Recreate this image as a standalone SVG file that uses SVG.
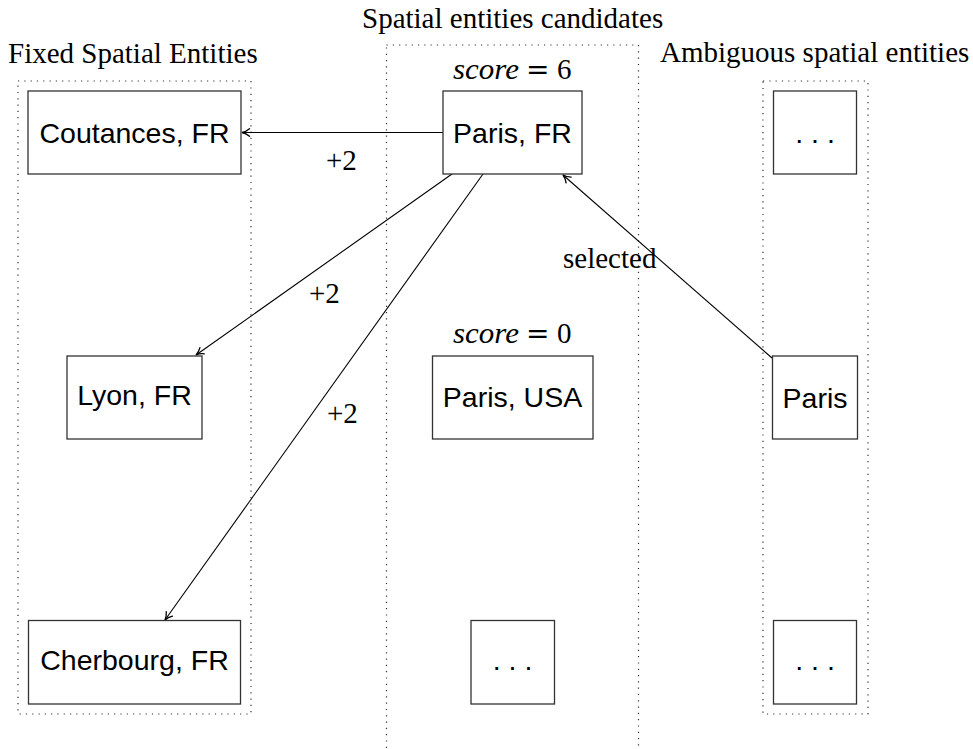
<svg xmlns="http://www.w3.org/2000/svg" width="973" height="749" viewBox="0 0 973 749">
<style>
.bg{fill:#fff}
.group{fill:none;stroke:#333;stroke-width:1.2;stroke-dasharray:1.2 5.1}
.box{fill:#fff;stroke:#333;stroke-width:1.3}
.lbl{font-family:"Liberation Serif","Times New Roman",serif;font-size:29px;fill:#000}
.it{font-style:italic}
.eq{font-family:"DejaVu Serif","Liberation Serif",serif;font-size:28px;fill:#000}
.node{font-family:"Liberation Sans",Arial,sans-serif;font-size:28.5px;fill:#000;text-anchor:middle}
.edge{fill:none;stroke:#000;stroke-width:1.1;marker-end:url(#arr)}
</style>
<defs>
<marker id="arr" viewBox="0 0 10 10" refX="9" refY="5" markerWidth="10" markerHeight="10" markerUnits="userSpaceOnUse" orient="auto">
<path d="M1.5,1.2 Q5,4.2 9,5 Q5,5.8 1.5,8.8" fill="none" stroke="#000" stroke-width="1.3" stroke-linecap="round"/>
</marker>
</defs>
<rect class="bg" x="0" y="0" width="973" height="749"/>

<g id="groups">
<rect class="group" x="18" y="81" width="233" height="633"/>
<rect class="group" x="386.5" y="45" width="252" height="720"/>
<rect class="group" x="763" y="81" width="105" height="633"/>
<text class="lbl" x="8" y="63">Fixed Spatial Entities</text>
<text class="lbl" x="362" y="28">Spatial entities candidates</text>
<text class="lbl" x="660" y="62">Ambiguous spatial entities</text>
</g>

<g id="connectors">
<line class="edge" x1="443" y1="132.5" x2="242" y2="132.5"/>
<line class="edge" x1="452" y1="174" x2="196" y2="355"/>
<line class="edge" x1="483" y1="174" x2="165" y2="620"/>
<line class="edge" x1="772" y1="358" x2="563" y2="175"/>
<text class="lbl" x="326" y="170">+2</text>
<text class="lbl" x="309" y="303">+2</text>
<text class="lbl" x="327" y="423">+2</text>
<text class="lbl" x="563" y="268">selected</text>
</g>

<g id="paris-fr">
<text class="lbl it" x="453" y="79" textLength="66" lengthAdjust="spacingAndGlyphs">score</text>
<text class="eq" x="526" y="79">=</text>
<text class="lbl" x="557" y="79">6</text>
<rect class="box" x="443" y="91" width="139" height="83"/>
<text class="node" x="512.5" y="143">Paris, FR</text>
</g>
<g id="coutances">
<rect class="box" x="28" y="91" width="213" height="83"/>
<text class="node" x="134.5" y="143">Coutances, FR</text>
</g>
<g id="amb-top">
<rect class="box" x="773.5" y="91" width="83" height="83"/>
<text class="node" x="815" y="143">. . .</text>
</g>
<g id="lyon">
<rect class="box" x="67" y="356" width="135" height="83"/>
<text class="node" x="134.5" y="405">Lyon, FR</text>
</g>
<g id="paris-usa">
<text class="lbl it" x="453" y="343" textLength="66" lengthAdjust="spacingAndGlyphs">score</text>
<text class="eq" x="526" y="343">=</text>
<text class="lbl" x="557" y="343">0</text>
<rect class="box" x="432.5" y="356" width="160.5" height="83"/>
<text class="node" x="512.5" y="407">Paris, USA</text>
</g>
<g id="paris">
<rect class="box" x="772.5" y="356" width="85" height="83"/>
<text class="node" x="815" y="408">Paris</text>
</g>
<g id="cherbourg">
<rect class="box" x="28.5" y="620.5" width="212" height="83.5"/>
<text class="node" x="134.5" y="670">Cherbourg, FR</text>
</g>
<g id="cand-bottom">
<rect class="box" x="471" y="620.5" width="83.5" height="83.5"/>
<text class="node" x="512.5" y="670">. . .</text>
</g>
<g id="amb-bottom">
<rect class="box" x="773.5" y="620.5" width="83" height="83.5"/>
<text class="node" x="815" y="670">. . .</text>
</g>
</svg>
